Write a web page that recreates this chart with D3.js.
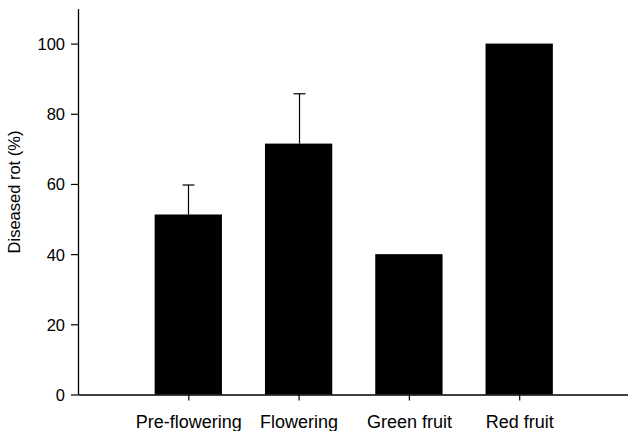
<!DOCTYPE html>
<html>
<head>
<meta charset="utf-8">
<script src="https://cdn.jsdelivr.net/npm/d3@7"></script>
<style>
  html, body { margin: 0; padding: 0; background: #fff; }
  svg { display: block; }
  text { font-family: "Liberation Sans", Arial, sans-serif; fill: #000; }
</style>
</head>
<body>
<svg id="chart" width="628" height="431"></svg>
<script>
const categories = ["Pre-flowering", "Flowering", "Green fruit", "Red fruit"];
const values = [51.3, 71.5, 40.0, 100.0];
const errors = [8.4, 14.2, null, null];
const yTicks = [0, 20, 40, 60, 80, 100];

(function () {
const svg = d3.select("#chart");
const mLeft = 78, mBottom = 394.5, mTop = 8.5;
const step = 110.3;

const x = d3.scaleLinear().domain([0, 5]).range([mLeft, mLeft + 5 * step]);
const y = d3.scaleLinear().domain([0, 110]).range([mBottom, mTop]);
const barW = 67.3;

const data = categories.map((c, i) => ({ c, i: i + 1, v: values[i], e: errors[i] }));

// bars
svg.append("g").selectAll("rect").data(data).join("rect")
  .attr("x", d => x(d.i) - barW / 2)
  .attr("y", d => y(d.v))
  .attr("width", barW)
  .attr("height", d => y(0) - y(d.v))
  .attr("fill", "#000");

// error bars (upper only)
const eb = svg.append("g").attr("stroke", "#000").attr("stroke-width", 1.2);
data.filter(d => d.e != null).forEach(d => {
  const cx = Math.round(x(d.i)) + 0.5;
  eb.append("line").attr("x1", cx).attr("x2", cx).attr("y1", y(d.v)).attr("y2", y(d.v + d.e));
  eb.append("line").attr("x1", cx - 6).attr("x2", cx + 6).attr("y1", y(d.v + d.e)).attr("y2", y(d.v + d.e));
});

// y axis
const yAxis = d3.axisLeft(y).tickValues(yTicks).tickSize(7).tickPadding(6).tickSizeOuter(0);
const gy = svg.append("g").attr("transform", `translate(${mLeft},0)`).call(yAxis);
gy.selectAll("text").style("font-size", "16.5px").attr("dy", "0.36em");
gy.selectAll(".tick line").attr("stroke", "#000").attr("stroke-width", 1.2);
gy.select(".domain").attr("stroke", "#000").attr("stroke-width", 1.3);

// x axis
const xAxis = d3.axisBottom(x).tickValues([1, 2, 3, 4]).tickFormat(d => categories[d - 1])
  .tickSize(6).tickPadding(15).tickSizeOuter(0);
const gx = svg.append("g").attr("transform", `translate(0,${mBottom})`).call(xAxis);
gx.selectAll("text").style("font-size", "18px");
gx.selectAll(".tick line").attr("stroke", "#000").attr("stroke-width", 1.2);
gx.select(".domain").attr("stroke", "#000").attr("stroke-width", 1.3);

// y label
svg.append("text")
  .attr("transform", `translate(20,192) rotate(-90)`)
  .attr("text-anchor", "middle")
  .style("font-size", "16.5px")
  .text("Diseased rot (%)");
})();
</script>
</body>
</html>
